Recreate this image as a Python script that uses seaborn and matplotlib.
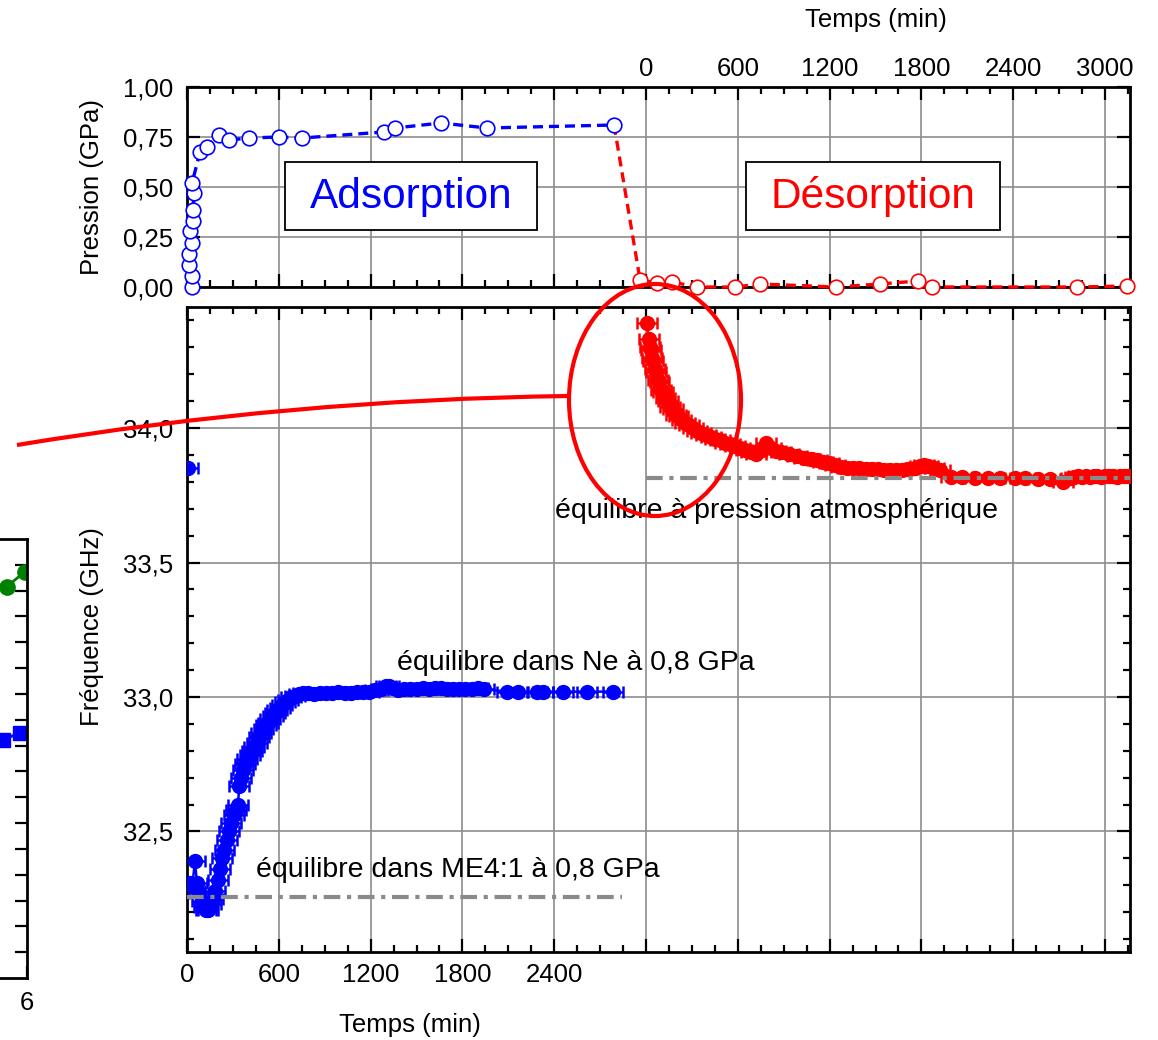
import matplotlib
matplotlib.use("Agg")
import matplotlib.pyplot as plt
import seaborn as sns
import pandas as pd
from matplotlib.ticker import MultipleLocator, FuncFormatter, FixedLocator
from matplotlib.patches import Ellipse, Rectangle, PathPatch
from matplotlib.path import Path

# ---------------- data ----------------
# pressure (top panel), time in minutes since start
p_ads_t = [33, 33, 13, 13, 33, 20, 39, 39, 46, 33, 85, 131, 209, 275, 405, 601, 752,
           1288, 1359, 1660, 1961, 2791]
p_ads_p = [0.0, 0.055, 0.11, 0.165, 0.22, 0.28, 0.33, 0.385, 0.47, 0.52, 0.675, 0.70,
           0.76, 0.735, 0.745, 0.75, 0.745, 0.775, 0.795, 0.82, 0.795, 0.81]
p_des_t = [2791, 2961, 3072, 3170, 3333, 3582, 3745, 4242, 4529, 4778, 4869, 5817, 6144]
p_des_p = [0.81, 0.035, 0.02, 0.025, 0.0, 0.0, 0.015, 0.0, 0.015, 0.03, 0.0, 0.0, 0.005]

# frequency (bottom panel)
f_start_t = [5]
f_start_f = [33.85]
f_ads_t = [20, 35, 52, 65, 80, 95, 110, 125, 140, 155, 170, 185, 200, 215, 230, 245, 260,
           275, 290, 305, 320, 333,
           342, 352, 365, 380, 395, 410, 425, 440, 455, 470, 485, 500, 515, 530, 545, 560,
           575, 590, 605, 620, 640, 660, 680, 705, 730, 760,
           790, 830, 870, 910, 950, 990, 1030, 1070, 1110, 1150, 1190, 1230, 1270, 1300,
           1320, 1345, 1380, 1420, 1460, 1500, 1540, 1580, 1620, 1660, 1700, 1740, 1780,
           1820, 1860, 1900, 1940,
           2090, 2165, 2290, 2325, 2455, 2615, 2785]
f_ads_f = [32.31, 32.30, 32.39, 32.31, 32.27, 32.24, 32.22, 32.21, 32.21, 32.23, 32.25,
           32.28, 32.32, 32.36, 32.40, 32.43, 32.47, 32.50, 32.53, 32.56, 32.58, 32.60,
           32.67, 32.70, 32.73, 32.75, 32.77, 32.785, 32.80, 32.815, 32.83, 32.85, 32.865,
           32.88, 32.895, 32.905, 32.92, 32.93, 32.94, 32.95, 32.96, 32.97, 32.98, 32.99,
           33.00, 33.005, 33.01, 33.015,
           33.015, 33.01, 33.015, 33.015, 33.015, 33.02, 33.015, 33.015, 33.02, 33.02,
           33.02, 33.025, 33.03, 33.04, 33.04, 33.035, 33.025, 33.03, 33.03, 33.03, 33.035,
           33.03, 33.035, 33.035, 33.03, 33.03, 33.03, 33.03, 33.03, 33.035, 33.03,
           33.02, 33.02, 33.02, 33.02, 33.02, 33.02, 33.02]
f_des_t = [3005, 3018, 3024, 3030, 3038, 3047, 3056, 3066, 3076, 3088, 3100, 3113, 3127,
           3142, 3158, 3175, 3193, 3212, 3232, 3255, 3280, 3305, 3333, 3362, 3392, 3422,
           3452, 3483, 3515, 3548, 3582, 3616, 3650, 3685, 3720, 3755, 3784, 3815, 3850,
           3885, 3935, 3985, 4030, 4075, 4115, 4155, 4195, 4235, 4275, 4315, 4355, 4395,
           4435, 4475, 4515, 4555, 4595, 4635, 4675, 4715, 4755, 4790, 4815, 4845, 4880,
           4920, 4990, 5065, 5150, 5235, 5315, 5410, 5480, 5560, 5640, 5725, 5775,
           5800, 5825, 5850, 5875, 5900, 5925, 5950, 5975, 6000, 6025, 6050, 6075, 6100,
           6125, 6150]
f_des_f = [34.39, 34.33, 34.30, 34.29, 34.26, 34.25, 34.22, 34.21, 34.18, 34.17, 34.14,
           34.135, 34.11, 34.10, 34.08, 34.07, 34.05, 34.045, 34.03, 34.02, 34.01, 34.0,
           33.99, 33.98, 33.975, 33.965, 33.96, 33.955, 33.945, 33.94, 33.935, 33.925,
           33.92, 33.91, 33.905, 33.92, 33.945, 33.925, 33.915, 33.91, 33.905, 33.895,
           33.89, 33.885, 33.88, 33.875, 33.87, 33.862, 33.857, 33.852, 33.85, 33.85,
           33.848, 33.848, 33.846, 33.845, 33.845, 33.844, 33.844, 33.846, 33.85, 33.858,
           33.862, 33.858, 33.852, 33.845, 33.818, 33.818, 33.815, 33.815, 33.814, 33.814,
           33.814, 33.812, 33.81, 33.80, 33.815,
           33.818, 33.82, 33.818, 33.82, 33.818, 33.82, 33.82, 33.818, 33.82, 33.82,
           33.82, 33.818, 33.82, 33.82, 33.82]
time_err = 65

eq_me4_f = 32.255
eq_me4_t = (0, 2840)
eq_atm_f = 33.814
eq_atm_t = (3000, 6165)

bottom_tick_labels = [0, 600, 1200, 1800, 2400]
top_offset = 3000

# fragment of neighbouring figure on the left
side_green_x = [5.90, 5.99]
side_green_y = [15.16, 15.74]
side_blue_x = [5.88, 5.965]
side_blue_y = [9.22, 9.50]

BLUE = "#0000FF"
RED = "#FF0000"
GRIDC = "#8c8c8c"

# ---------------- style ----------------
sns.set_theme(style="white")
plt.rcParams["font.family"] = ["Liberation Sans", "DejaVu Sans"]
plt.rcParams["axes.linewidth"] = 2.0
plt.rcParams["axes.edgecolor"] = "black"
plt.rcParams["text.color"] = "black"
plt.rcParams["axes.labelcolor"] = "black"
plt.rcParams["xtick.color"] = "black"
plt.rcParams["ytick.color"] = "black"
plt.rcParams["xtick.labelcolor"] = "black"
plt.rcParams["ytick.labelcolor"] = "black"

W, H = 1158, 1040
fig = plt.figure(figsize=(W / 100, H / 100), dpi=100)
fig.patch.set_facecolor("white")


def fx(px):
    return px / W


def fy(py):
    return 1 - py / H


ax_p = fig.add_axes([fx(187), fy(287), fx(1130) - fx(187), fy(87) - fy(287)])
ax_f = fig.add_axes([fx(187), fy(952), fx(1130) - fx(187), fy(307) - fy(952)])

XMAX = 6163
TICK_FS = 18.5


def style_axis(ax):
    ax.set_facecolor("white")
    for s in ax.spines.values():
        s.set_visible(True)
        s.set_linewidth(2.0)
        s.set_color("black")
    ax.set_xlim(0, XMAX)
    ax.xaxis.set_major_locator(MultipleLocator(600))
    ax.xaxis.set_minor_locator(MultipleLocator(150))
    ax.tick_params(which="both", direction="in", top=True, bottom=True, left=True,
                   right=True, colors="black", labelcolor="black", labelsize=TICK_FS)
    ax.tick_params(which="major", length=9.5, width=1.6)
    ax.tick_params(which="minor", length=5, width=1.6)
    ax.grid(True, which="major", color=GRIDC, lw=1.2)
    ax.set_axisbelow(True)


style_axis(ax_p)
style_axis(ax_f)

# ---- top panel (pressure) ----
ax_p.set_ylim(0, 1.0)
ax_p.yaxis.set_major_locator(MultipleLocator(0.25))
ax_p.yaxis.set_minor_locator(FixedLocator([]))
ax_p.yaxis.set_major_formatter(FuncFormatter(lambda v, p: f"{v:.2f}".replace(".", ",")))
ax_p.tick_params(axis="y", pad=10)
ax_p.tick_params(axis="x", labelbottom=False, labeltop=True, pad=4)
ax_p.xaxis.set_major_formatter(
    FuncFormatter(lambda v, p: f"{int(round(v - top_offset))}" if v >= top_offset - 1 else ""))

df_pa = pd.DataFrame({"t": p_ads_t, "p": p_ads_p})
df_pd = pd.DataFrame({"t": p_des_t, "p": p_des_p})
sns.lineplot(data=df_pd, x="t", y="p", ax=ax_p, sort=False, estimator=None,
             color=RED, lw=2.4, linestyle=(0, (3.0, 1.8)), marker="o", markersize=10.5,
             markerfacecolor="white", markeredgecolor=RED, markeredgewidth=1.2,
             markevery=list(range(1, len(p_des_t))), clip_on=False, zorder=3)
sns.lineplot(data=df_pa, x="t", y="p", ax=ax_p, sort=False, estimator=None,
             color=BLUE, lw=2.4, linestyle=(0, (3.0, 1.8)), marker="o", markersize=10.5,
             markerfacecolor="white", markeredgecolor=BLUE, markeredgewidth=1.2,
             clip_on=False, zorder=4)
ax_p.set_xlim(0, XMAX)
ax_p.set_ylim(0, 1.0)
ax_p.set_xlabel("")
ax_p.set_ylabel("")

for (x0, x1, label, col) in [(640, 2288, "Adsorption", BLUE), (3654, 5314, "Désorption", RED)]:
    ax_p.add_patch(Rectangle((x0, 0.285), x1 - x0, 0.34, facecolor="white",
                             edgecolor="black", lw=1.3, zorder=5))
    ax_p.text((x0 + x1) / 2, 0.452, label, color=col, fontsize=30.5, ha="center",
              va="center", zorder=6)

# ---- bottom panel (frequency) ----
ax_f.set_ylim(32.052, 34.45)
ax_f.yaxis.set_major_locator(MultipleLocator(0.5))
ax_f.yaxis.set_minor_locator(MultipleLocator(0.1))
ax_f.yaxis.set_major_formatter(FuncFormatter(lambda v, p: f"{v:.1f}".replace(".", ",")))
ax_f.tick_params(axis="y", pad=10)
ax_f.tick_params(axis="x", pad=8)
ax_f.xaxis.set_major_formatter(
    FuncFormatter(lambda v, p: f"{int(round(v))}" if round(v) in bottom_tick_labels else ""))

eb_kw = dict(fmt="o-", ms=10, lw=1.8, elinewidth=1.8, capsize=4, capthick=1.8)
ax_f.errorbar(f_ads_t, f_ads_f, xerr=time_err, color=BLUE, zorder=3, **eb_kw)
ax_f.errorbar(f_start_t, f_start_f, xerr=time_err, color=BLUE, zorder=3, **eb_kw)
ax_f.errorbar(f_des_t, f_des_f, xerr=time_err, color=RED, zorder=3, **eb_kw)

dashdot = (0, (4, 1.6, 1, 1.6))
ax_f.hlines(eq_me4_f, *eq_me4_t, colors="#8a8a8a", lw=3, linestyles=[dashdot], zorder=4)
ax_f.hlines(eq_atm_f, *eq_atm_t, colors="#8a8a8a", lw=3, linestyles=[dashdot], zorder=4)

ANN_FS = 20.5
ax_f.text(2405, 33.691, "équilibre à pression atmosphérique", fontsize=ANN_FS,
          ha="left", va="center", color="black", zorder=6)
ax_f.text(1373, 33.126, "équilibre dans Ne à 0,8 GPa", fontsize=ANN_FS,
          ha="left", va="center", color="black", zorder=6)
ax_f.text(451, 32.357, "équilibre dans ME4:1 à 0,8 GPa", fontsize=ANN_FS,
          ha="left", va="center", color="black", zorder=6)
ax_f.set_xlim(0, XMAX)
ax_f.set_ylim(32.052, 34.45)

# ---- axis titles ----
fig.text(fx(410), fy(1025), "Temps (min)", fontsize=TICK_FS, ha="center", va="center")
fig.text(fx(876), fy(20), "Temps (min)", fontsize=TICK_FS, ha="center", va="center")
fig.text(fx(92), fy(187), "Pression (GPa)", fontsize=TICK_FS, ha="center", va="center",
         rotation=90)
fig.text(fx(92), fy(627), "Fréquence (GHz)", fontsize=TICK_FS, ha="center", va="center",
         rotation=90)

# ---- neighbouring figure fragment on the left ----
ax_s = fig.add_axes([fx(-173), fy(978), fx(200), fy(539) - fy(978)])
ax_s.set_facecolor("white")
ax_s.set_xlim(5, 6)
ax_s.set_ylim(0, 17)
for k, s in ax_s.spines.items():
    s.set_linewidth(2.0)
    s.set_color("black")
ax_s.yaxis.set_major_locator(FixedLocator(list(range(1, 17))))
ax_s.xaxis.set_major_locator(FixedLocator([6]))
ax_s.tick_params(axis="y", direction="in", left=False, right=True, labelleft=False,
                 length=9, width=1.6, colors="black")
ax_s.tick_params(axis="x", direction="in", bottom=True, labelsize=TICK_FS, length=9,
                 width=1.6, pad=9, colors="black", labelcolor="black")
ax_s.xaxis.set_major_formatter(FuncFormatter(lambda v, p: f"{int(round(v))}"))
ax_s.plot(side_green_x, side_green_y, "-o", color="#008000", ms=11, lw=2)
ax_s.errorbar(side_blue_x, side_blue_y, xerr=0.02, fmt="s-", color=BLUE, ms=10, lw=2,
              capsize=2)
ax_s.grid(False)

# ---- red highlight: ellipse and pointer curve ----
ell = Ellipse((fx(655), fy(400)), fx(172), 232 / H, transform=fig.transFigure,
              fill=False, edgecolor=RED, lw=3.0, zorder=10)
fig.add_artist(ell)
verts = [(fx(17), fy(445)), (fx(291.5), fy(399.5)), (fx(568), fy(396))]
path = Path(verts, [Path.MOVETO, Path.CURVE3, Path.CURVE3])
fig.add_artist(PathPatch(path, transform=fig.transFigure, fill=False, edgecolor=RED,
                         lw=3.0, zorder=10, capstyle="butt"))

fig.savefig("out.png", dpi=100, facecolor="white")
